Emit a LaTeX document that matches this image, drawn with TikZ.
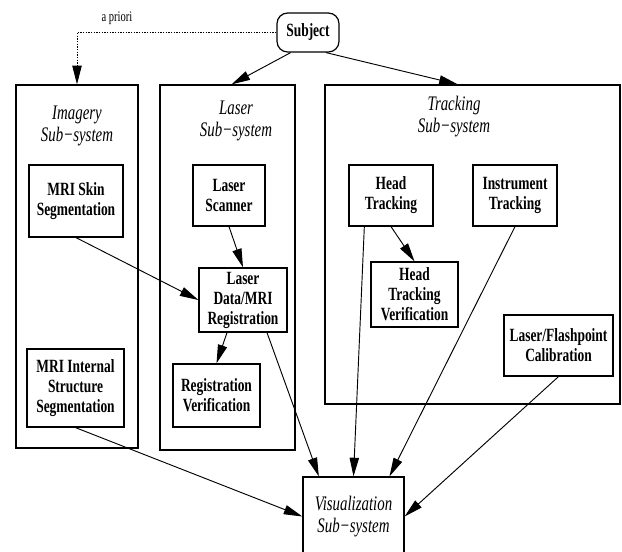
\documentclass[tikz,border=0pt]{standalone}
\usepackage{fontspec}
\setmainfont{Liberation Serif}[FakeStretch=0.72]
\usetikzlibrary{arrows.meta}

\tikzset{
  blk/.style={draw,line width=0.9pt,inner sep=0pt,align=center,
    font=\bfseries\fontsize{14}{15}\selectfont},
  grp/.style={draw,line width=0.9pt,inner sep=0pt},
  ttl/.style={align=center,font=\itshape\fontsize{15.5}{16.5}\selectfont},
  sz/.style 2 args={minimum width=#1*0.75pt,minimum height=#2*0.75pt},
  edge/.style={line width=0.7pt,-{Triangle[length=14pt,width=7pt]}},
}

\begin{document}
\begin{tikzpicture}[x=0.75pt,y=0.75pt,yscale=-1,xscale=1]
\useasboundingbox (0,0) rectangle (622,551);

%Shape: Sub-system frames
\node[grp,sz={122}{363}] (img) at (77,266.5) {};
\node[grp,sz={135}{365}] (las) at (227.5,267.5) {};
\node[grp,sz={295}{319}] (trk) at (472.5,244.5) {};
\node[ttl] (imgT) at (77,126) {Imagery\\Sub−system};
\node[ttl] (lasT) at (236,121) {Laser\\Sub−system};
\node[ttl] (trkT) at (454,117) {Tracking\\Sub−system};

%Shape: Subject
\node[blk,rounded corners=8pt,sz={62}{39}] (subj) at (308,32.5) {Subject};
\node[font=\fontsize{11}{12}\selectfont] (apri) at (117,18) {a priori};

%Shape: Imagery boxes
\node[blk,sz={94}{72}] (skin) at (76,201) {MRI Skin\\Segmentation};
\node[blk,sz={97}{78}] (intl) at (75.5,388) {MRI Internal\\Structure\\Segmentation};

%Shape: Laser boxes
\node[blk,sz={72}{61}] (scan) at (229,195.5) {Laser\\Scanner};
\node[blk,sz={88}{64}] (reg) at (243,300) {Laser\\Data/MRI\\Registration};
\node[blk,sz={87}{63}] (regv) at (216.5,395.5) {Registration\\Verification};

%Shape: Tracking boxes
\node[blk,sz={84}{61}] (head) at (391,195.5) {Head\\Tracking};
\node[blk,sz={84}{61}] (inst) at (515,195.5) {Instrument\\Tracking};
\node[blk,sz={87}{65}] (htv) at (414.5,294.5) {Head\\Tracking\\Verification};
\node[blk,sz={109}{61}] (cal) at (558.5,345.5) {Laser/Flashpoint\\Calibration};

%Shape: Visualization
\node[grp,ttl,sz={101}{79}] (vis) at (353.5,516.5) {Visualization\\Sub−system};

%Lines
\draw[edge,dash pattern=on 1pt off 1pt] (subj.west) -| (img.north);
\draw[edge] ([xshift=-13pt]subj.south) -- ([xshift=3pt]las.north);
\draw[edge] ([xshift=13.5pt]subj.south) -- ([xshift=-11pt]trk.north);
\draw[edge] (skin.south) -- (reg.west);
\draw[edge] (scan.south) -- (reg.north);
\draw[edge] ([xshift=-12pt]reg.south) -- (regv.north);
\draw[edge] ([xshift=18pt]reg.south) -- ([xshift=-26pt]vis.north);
\draw[edge] ([xshift=-20pt]head.south) -- (vis.north);
\draw[edge] (head.south) -- (htv.north);
\draw[edge] (inst.south) -- ([xshift=27pt]vis.north);
\draw[edge] (cal.south) -- (vis.east);
\draw[edge] (intl.south) -- (vis.west);

\end{tikzpicture}
\end{document}
